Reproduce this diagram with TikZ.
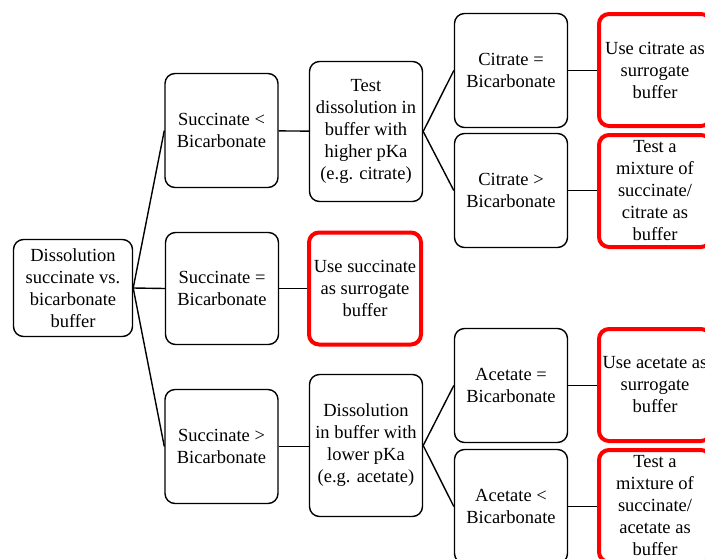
\documentclass[tikz,border=0pt]{standalone}
\usepackage{fontspec}
\setmainfont{Liberation Serif}
\usepackage{tikz}

\begin{document}
\begin{tikzpicture}[x=1pt, y=-1pt,
    every node/.style={rectangle, rounded corners=10pt, align=center, inner sep=1pt,
        font=\fontsize{18.5}{22}\selectfont},
    box/.style={draw=black, line width=1.4pt, minimum width=113pt, minimum height=114pt},
    endbox/.style={draw=red, line width=4pt, minimum width=112pt, minimum height=112pt}]
            \useasboundingbox (0,0) rectangle (705,558);
            \clip (0,0) rectangle (705,558);

            \node[box, minimum width=119pt, minimum height=97pt] (root) at (73, 288) {Dissolution\\succinate vs.\\bicarbonate\\buffer};

            \node[box] (sl) at (221.5, 130.5) {Succinate <\\Bicarbonate};
            \node[box, minimum height=112pt] (se) at (222, 288.5) {Succinate =\\Bicarbonate};
            \node[box] (sg) at (221.5, 446.5) {Succinate >\\Bicarbonate};

            \node[box, minimum height=140pt] (th) at (366, 131.5) {Test\\dissolution in\\buffer with\\higher pKa\\(e.g. citrate)};
            \node[endbox] (us) at (365, 288.5) {Use succinate\\as surrogate\\buffer};
            \node[box, minimum height=142pt] (dl) at (366, 445.5) {Dissolution\\in buffer with\\lower pKa\\(e.g. acetate)};

            \node[box] (ce) at (511, 70.5) {Citrate =\\Bicarbonate};
            \node[box] (cg) at (511, 190.5) {Citrate >\\Bicarbonate};
            \node[box] (ae) at (511, 385.5) {Acetate =\\Bicarbonate};
            \node[box] (al) at (511, 506.5) {Acetate <\\Bicarbonate};

            \node[endbox] (uc) at (655, 70) {Use citrate as\\surrogate\\buffer};
            \node[endbox] (mc) at (655, 191) {Test a\\mixture of\\succinate/\\citrate as\\buffer};
            \node[endbox] (ua) at (655, 385) {Use acetate as\\surrogate\\buffer};
            \node[endbox] (ma) at (655, 506) {Test a\\mixture of\\succinate/\\acetate as\\buffer};

            \draw[line width=1.4pt] (root.east) -- (sl.west);
            \draw[line width=1.4pt] (root.east) -- (se.west);
            \draw[line width=1.4pt] (root.east) -- (sg.west);
            \draw[line width=1.4pt] (sl) -- (th);
            \draw[line width=1.4pt] (se) -- (us);
            \draw[line width=1.4pt] (sg.east) -- (dl.west |- sg.east);
            \draw[line width=1.4pt] (th.east) -- (ce.west);
            \draw[line width=1.4pt] (th.east) -- (cg.west);
            \draw[line width=1.4pt] (dl.east) -- (ae.west);
            \draw[line width=1.4pt] (dl.east) -- (al.west);
            \draw[line width=1.4pt] (ce.east) -- (uc.west |- ce.east);
            \draw[line width=1.4pt] (cg.east) -- (mc.west |- cg.east);
            \draw[line width=1.4pt] (ae.east) -- (ua.west |- ae.east);
            \draw[line width=1.4pt] (al.east) -- (ma.west |- al.east);
        \end{tikzpicture}
\end{document}
